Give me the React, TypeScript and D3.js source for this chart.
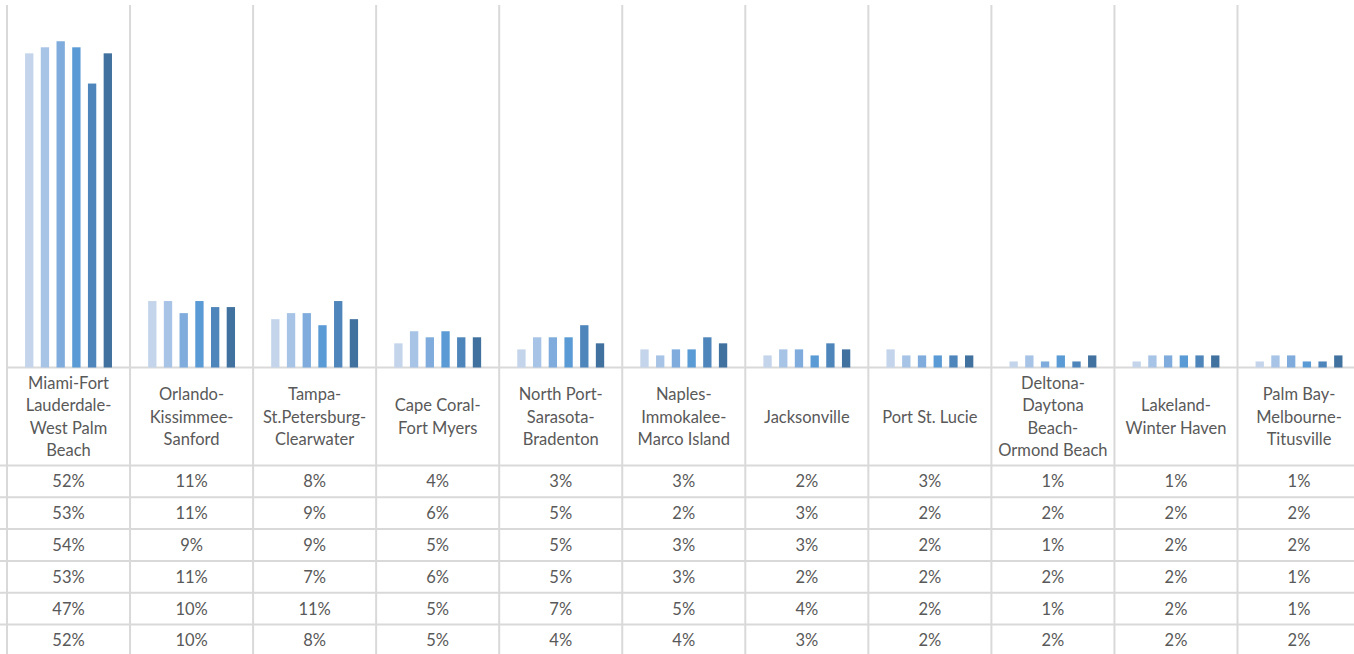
import React from "react";
import * as d3 from "d3";

// Metro areas (categories along the x axis); each label is pre-split into lines
const categories = [
  "Miami-Fort Lauderdale-West Palm Beach",
  "Orlando-Kissimmee-Sanford",
  "Tampa-St.Petersburg-Clearwater",
  "Cape Coral-Fort Myers",
  "North Port-Sarasota-Bradenton",
  "Naples-Immokalee-Marco Island",
  "Jacksonville",
  "Port St. Lucie",
  "Deltona-Daytona Beach-Ormond Beach",
  "Lakeland-Winter Haven",
  "Palm Bay-Melbourne-Titusville",
];

const categoryLines = [
  ["Miami-Fort", "Lauderdale-", "West Palm", "Beach"],
  ["Orlando-", "Kissimmee-", "Sanford"],
  ["Tampa-", "St.Petersburg-", "Clearwater"],
  ["Cape Coral-", "Fort Myers"],
  ["North Port-", "Sarasota-", "Bradenton"],
  ["Naples-", "Immokalee-", "Marco Island"],
  ["Jacksonville"],
  ["Port St. Lucie"],
  ["Deltona-", "Daytona", "Beach-", "Ormond Beach"],
  ["Lakeland-", "Winter Haven"],
  ["Palm Bay-", "Melbourne-", "Titusville"],
];

// Six series, one value (share in %) per metro area
const series1 = [52, 11, 8, 4, 3, 3, 2, 3, 1, 1, 1];
const series2 = [53, 11, 9, 6, 5, 2, 3, 2, 2, 2, 2];
const series3 = [54, 9, 9, 5, 5, 3, 3, 2, 1, 2, 2];
const series4 = [53, 11, 7, 6, 5, 3, 2, 2, 2, 2, 1];
const series5 = [47, 10, 11, 5, 7, 5, 4, 2, 1, 2, 1];
const series6 = [52, 10, 8, 5, 4, 4, 3, 2, 2, 2, 2];

const seriesValues = [series1, series2, series3, series4, series5, series6];
const seriesKeys = ["s1", "s2", "s3", "s4", "s5", "s6"];
const seriesColors = ["#C4D5EB", "#A7C3E6", "#7FACDC", "#5B9BD5", "#4E85BA", "#41719E"];

const W = 1354;
const H = 654;
const plotLeft = 7;
const colW = 123.05;
const plotTop = 5;
const baseY = 367.5;
const labelBottom = 465.5;
const rowH = 31.8;
const gridColor = "#D9D9D9";
const textColor = "#595959";
const font = "Lato, 'Open Sans', sans-serif";

export default function App() {
  const x0 = d3
    .scaleBand<string>()
    .domain(categories)
    .range([plotLeft, plotLeft + colW * categories.length])
    .paddingInner(0)
    .paddingOuter(0);

  const x1 = d3
    .scaleBand<string>()
    .domain(seriesKeys)
    .range([0, x0.bandwidth()])
    .paddingInner(0.47)
    .paddingOuter(1.15);

  const y = d3.scaleLinear().domain([0, 60]).range([baseY, plotTop]);

  const colEdges = d3.range(categories.length + 1).map((i) => plotLeft + i * colW);
  const rowEdges = d3.range(seriesValues.length + 1).map((i) => labelBottom + i * rowH);
  const lineH = 22.6;
  const labelMid = (baseY + labelBottom) / 2;

  return (
    <svg
      width={W}
      height={H}
      style={{ position: "absolute", left: 0, top: 0, background: "#fff" }}
      fontFamily={font}
    >
      {/* vertical category gridlines through plot and table */}
      {colEdges.map((cx, i) => (
        <line
          key={"v" + i}
          x1={cx}
          x2={cx}
          y1={plotTop}
          y2={H + 10}
          stroke={gridColor}
          strokeWidth={2}
        />
      ))}

      {/* category axis baseline */}
      <line x1={plotLeft} x2={W + 10} y1={baseY} y2={baseY} stroke={gridColor} strokeWidth={2} />

      {/* data table row rules */}
      {rowEdges.map((ry, i) => (
        <line key={"h" + i} x1={0} x2={W + 10} y1={ry} y2={ry} stroke={gridColor} strokeWidth={2} />
      ))}

      {/* clustered bars */}
      {categories.map((cat, ci) => (
        <g key={cat} transform={`translate(${x0(cat)},0)`}>
          {seriesKeys.map((sk, si) => {
            const v = seriesValues[si][ci];
            return (
              <rect
                key={sk}
                x={x1(sk)}
                y={y(v)}
                width={x1.bandwidth()}
                height={baseY - y(v)}
                fill={seriesColors[si]}
              />
            );
          })}
        </g>
      ))}

      {/* category labels */}
      {categories.map((cat, ci) => {
        const lines = categoryLines[ci];
        const cx = (x0(cat) as number) + x0.bandwidth() / 2;
        const startY = labelMid - ((lines.length - 1) * lineH) / 2;
        return (
          <text
            key={"l" + cat}
            x={cx}
            textAnchor="middle"
            fontSize={16.5}
            fill={textColor}
          >
            {lines.map((ln, li) => (
              <tspan key={li} x={cx} y={startY + li * lineH} dominantBaseline="central">
                {ln}
              </tspan>
            ))}
          </text>
        );
      })}

      {/* data table values */}
      {seriesValues.map((vals, si) =>
        vals.map((v, ci) => {
          const cx = (x0(categories[ci]) as number) + x0.bandwidth() / 2;
          return (
            <text
              key={`t${si}-${ci}`}
              x={cx}
              y={labelBottom + si * rowH + rowH / 2}
              textAnchor="middle"
              dominantBaseline="central"
              fontSize={16.5}
              fill={textColor}
            >
              {v}%
            </text>
          );
        })
      )}
    </svg>
  );
}
